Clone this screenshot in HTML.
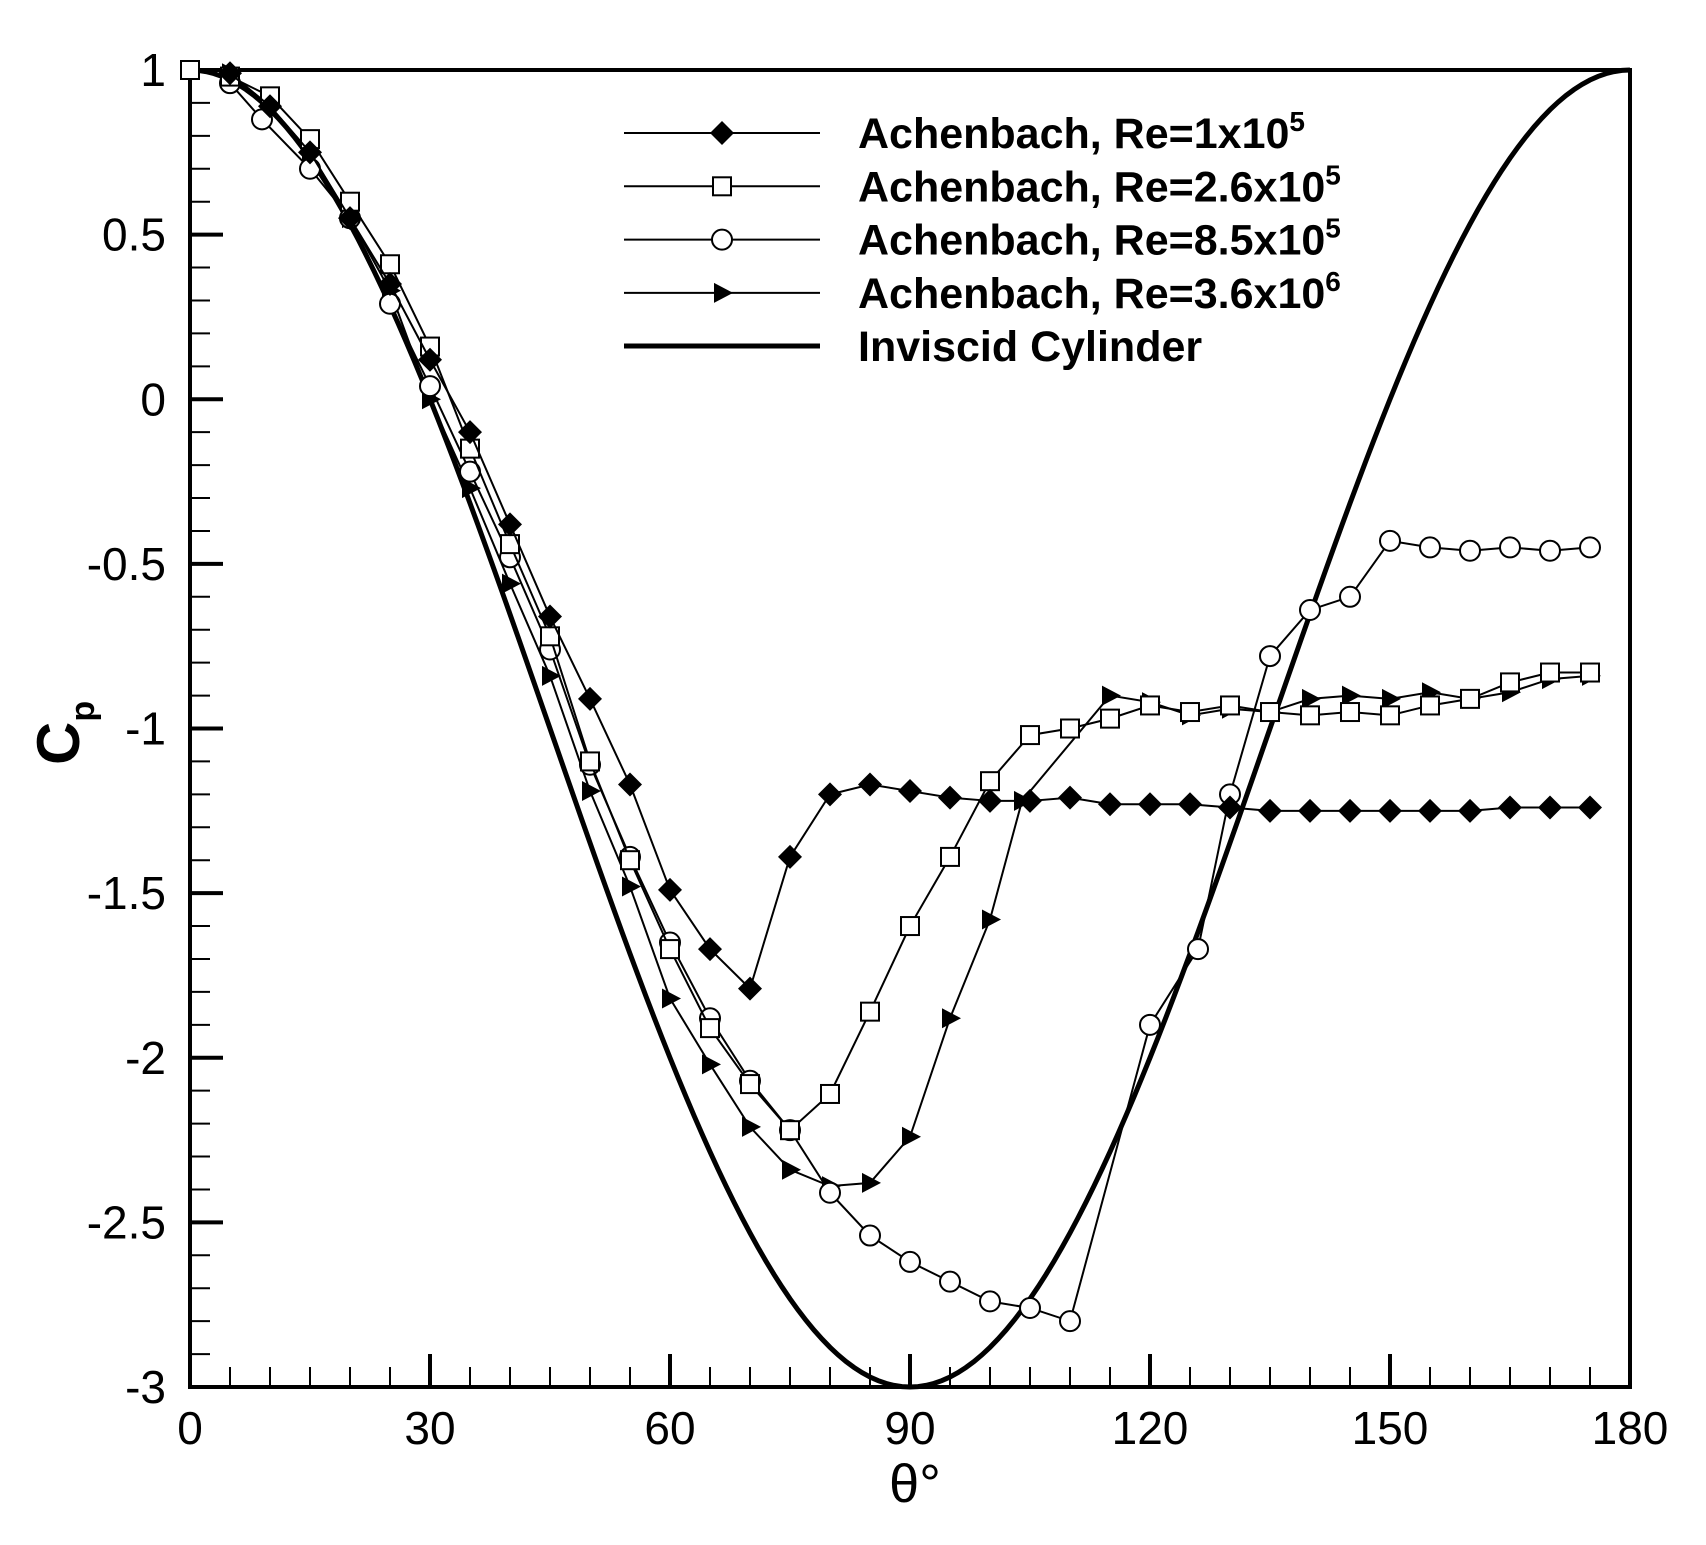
<!DOCTYPE html>
<html><head><meta charset="utf-8"><style>body{margin:0;background:#fff}svg{display:block}</style></head>
<body>
<svg id="s" xmlns="http://www.w3.org/2000/svg" width="1706" height="1545" viewBox="0 0 1706 1545" font-family="Liberation Sans, sans-serif"></svg>
<script>
const s=document.getElementById('s');
const X=t=>190+t*8, Y=c=>70+(1-c)*329.25;
let h='';
h+=`<rect x="190" y="70" width="1440" height="1317" fill="none" stroke="#000" stroke-width="4"/>`;
for(let t=0;t<=180;t+=5){const maj=t%30==0;h+=`<line x1="${X(t)}" y1="1387" x2="${X(t)}" y2="${1387-(maj?33:20)}" stroke="#000" stroke-width="${maj?4:2}"/>`;
 if(maj)h+=`<text x="${X(t)}" y="1444" font-size="46" text-anchor="middle">${t}</text>`;}
for(let i=0;i<=40;i++){const c=1-i*0.1;const maj=i%5==0;h+=`<line x1="190" y1="${Y(c)}" x2="${190+(maj?33:20)}" y2="${Y(c)}" stroke="#000" stroke-width="${maj?4:2}"/>`;
 if(maj){let l=Math.round(c*10)/10;h+=`<text x="166" y="${Y(c)+16}" font-size="46" text-anchor="end">${l}</text>`;}}
let p=[];for(let t=0;t<=180;t+=1){p.push(X(t)+','+Y(1-4*Math.sin(t*Math.PI/180)**2));}
h+=`<polyline points="${p.join(' ')}" fill="none" stroke="#000" stroke-width="5"/>`;
const th=a=>a.map((c,i)=>[5+5*i,c]);
const d1=th([0.99,0.89,0.75,0.55,0.35,0.12,-0.10,-0.38,-0.66,-0.91,-1.17,-1.49,-1.67,-1.79,-1.39,-1.20,-1.17,-1.19,-1.21,-1.22,-1.22,-1.21,-1.23,-1.23,-1.23,-1.24,-1.25,-1.25,-1.25,-1.25,-1.25,-1.25,-1.24,-1.24,-1.24]);
const d2=[[0,1.0]].concat(th([0.98,0.92,0.79,0.60,0.41,0.16,-0.15,-0.44,-0.72,-1.10,-1.40,-1.67,-1.91,-2.08,-2.22,-2.11,-1.86,-1.60,-1.39,-1.16,-1.02,-1.00,-0.97,-0.93,-0.95,-0.93,-0.95,-0.96,-0.95,-0.96,-0.93,-0.91,-0.86,-0.83,-0.83]));
const d3=[[5,0.96],[9,0.85],[15,0.70],[20,0.55],[25,0.29],[30,0.04],[35,-0.22],[40,-0.48],[45,-0.76],[50,-1.11],[55,-1.39],[60,-1.65],[65,-1.88],[70,-2.07],[75,-2.22],[80,-2.41],[85,-2.54],[90,-2.62],[95,-2.68],[100,-2.74],[105,-2.76],[110,-2.80],[120,-1.90],[126,-1.67],[130,-1.20],[135,-0.78],[140,-0.64],[145,-0.60],[150,-0.43],[155,-0.45],[160,-0.46],[165,-0.45],[170,-0.46],[175,-0.45]];
const d4=[[5,0.99],[10,0.89],[15,0.75],[20,0.55],[25,0.33],[30,0.0],[35,-0.27],[40,-0.56],[45,-0.84],[50,-1.19],[55,-1.48],[60,-1.82],[65,-2.02],[70,-2.21],[75,-2.34],[80,-2.39],[85,-2.38],[90,-2.24],[95,-1.88],[100,-1.58],[104,-1.22],[115,-0.90],[120,-0.92],[125,-0.96],[130,-0.94],[135,-0.95],[140,-0.91],[145,-0.90],[150,-0.91],[155,-0.89],[160,-0.91],[165,-0.89],[170,-0.85],[175,-0.84]];
const mk={
 d:(x,y)=>`<polygon points="${x},${y-12} ${x+12},${y} ${x},${y+12} ${x-12},${y}" fill="#000"/>`,
 s:(x,y)=>`<rect x="${x-9}" y="${y-9}" width="18" height="18" fill="#fff" stroke="#000" stroke-width="2"/>`,
 c:(x,y)=>`<circle cx="${x}" cy="${y}" r="10" fill="#fff" stroke="#000" stroke-width="2"/>`,
 t:(x,y)=>`<polygon points="${x+11},${y} ${x-8},${y-10} ${x-8},${y+10}" fill="#000"/>`};
function ser(d,m){let pts=d.map(([t,c])=>[X(t),Y(c)]);h+=`<polyline points="${pts.map(q=>q.join(',')).join(' ')}" fill="none" stroke="#000" stroke-width="2"/>`;pts.forEach(q=>h+=mk[m](q[0],q[1]));}
ser(d4,'t');ser(d3,'c');ser(d2,'s');ser(d1,'d');
const L=[['d','Achenbach, Re=1x10','5'],['s','Achenbach, Re=2.6x10','5'],['c','Achenbach, Re=8.5x10','5'],['t','Achenbach, Re=3.6x10','6']];
L.forEach((l,i)=>{const y=133+i*53.3;h+=`<line x1="624" y1="${y}" x2="820" y2="${y}" stroke="#000" stroke-width="2"/>`+mk[l[0]](722,y)+`<text x="858" y="${y+15}" font-size="43" font-weight="bold">${l[1]}<tspan dy="-17" font-size="28">${l[2]}</tspan></text>`;});
h+=`<line x1="624" y1="346" x2="820" y2="346" stroke="#000" stroke-width="5"/><text x="858" y="361" font-size="43" font-weight="bold">Inviscid Cylinder</text>`;
h+=`<text transform="translate(79,765) rotate(-90)" font-size="60" font-weight="bold">C<tspan dy="15" font-size="34">p</tspan></text>`;
h+=`<text x="915" y="1502" font-size="54" text-anchor="middle">θ°</text>`;
s.innerHTML=h;
</script>
</body></html>
